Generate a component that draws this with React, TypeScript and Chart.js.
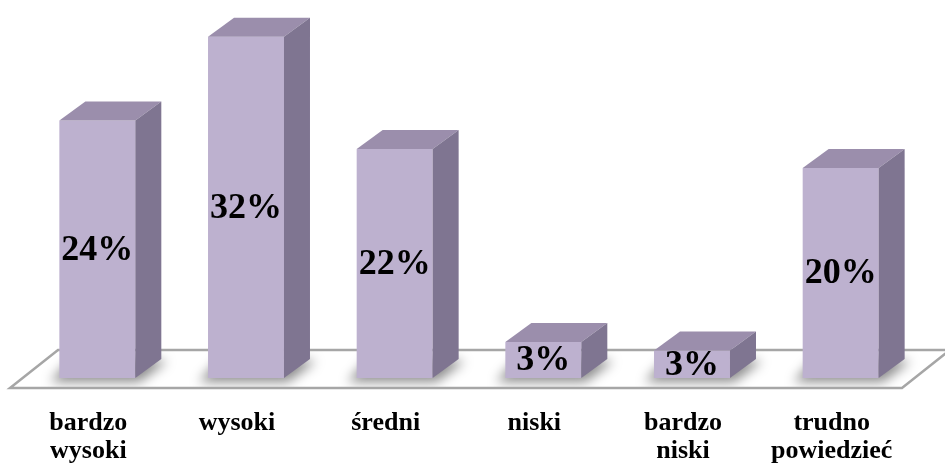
import React, { useEffect, useRef } from "react";
import { Chart, registerables } from "chart.js";

Chart.register(...registerables);

const categories: string[][] = [
  ["bardzo", "wysoki"],
  ["wysoki"],
  ["średni"],
  ["niski"],
  ["bardzo", "niski"],
  ["trudno", "powiedzieć"],
];
const values: number[] = [24.3, 32.2, 21.6, 3.4, 2.6, 19.8];
const yMax = 35;

const FRONT = "#BDB1CF";
const TOP = "#9B8EAC";
const SIDE = "#7F7591";
const DX = 26;
const DY = 19;
const SERIF = '"Liberation Serif", "Times New Roman", Times, serif';

function poly(ctx: CanvasRenderingContext2D, pts: number[][]) {
  ctx.beginPath();
  ctx.moveTo(pts[0][0], pts[0][1]);
  for (let i = 1; i < pts.length; i++) ctx.lineTo(pts[i][0], pts[i][1]);
  ctx.closePath();
}

const bar3d = {
  id: "bar3d",
  beforeDatasetsDraw(chart: any) {
    const { ctx, chartArea } = chart;
    const b = chartArea.bottom;
    const floor = [
      [chartArea.left - 13, b + 10],
      [chartArea.right - 13, b + 10],
      [chartArea.right + 35, b - 28],
      [chartArea.left + 35, b - 28],
    ];
    ctx.save();
    poly(ctx, floor);
    ctx.fillStyle = "#ffffff";
    ctx.fill();
    ctx.clip();
    ctx.filter = "blur(6px)";
    ctx.fillStyle = "rgba(0,0,0,0.45)";
    const meta = chart.getDatasetMeta(0);
    meta.data.forEach((el: any) => {
      const { x, width, base } = el.getProps(["x", "width", "base"], true);
      const L = x - width / 2;
      const R = x + width / 2;
      poly(ctx, [
        [L - 9, base + 4],
        [R + 4, base + 4],
        [R + DX + 6, base - DY + 2],
        [L + DX - 9, base - DY - 6],
      ]);
      ctx.fill();
    });
    ctx.restore();
    ctx.save();
    poly(ctx, floor);
    ctx.strokeStyle = "#A6A6A6";
    ctx.lineWidth = 2.5;
    ctx.stroke();
    ctx.restore();
  },
  afterDatasetsDraw(chart: any) {
    const { ctx, chartArea } = chart;
    const meta = chart.getDatasetMeta(0);
    ctx.save();
    meta.data.forEach((el: any, i: number) => {
      const { x, y, width, base } = el.getProps(["x", "y", "width", "base"], true);
      const L = x - width / 2;
      const R = x + width / 2;
      poly(ctx, [
        [L, y],
        [R, y],
        [R + DX, y - DY],
        [L + DX, y - DY],
      ]);
      ctx.fillStyle = TOP;
      ctx.fill();
      poly(ctx, [
        [R, y],
        [R + DX, y - DY],
        [R + DX, base - DY],
        [R, base],
      ]);
      ctx.fillStyle = SIDE;
      ctx.fill();

      const v = chart.data.datasets[0].data[i];
      const txt = Math.round(v) + "%";
      ctx.font = "bold 36px " + SERIF;
      ctx.fillStyle = "#000000";
      ctx.textAlign = "center";
      ctx.textBaseline = "middle";
      ctx.fillText(txt, x, (y + base) / 2 + 1);
    });

    const xs = chart.scales.x;
    const b = chartArea.bottom;
    ctx.font = "bold 26px " + SERIF;
    ctx.fillStyle = "#000000";
    ctx.textAlign = "center";
    ctx.textBaseline = "alphabetic";
    chart.data.labels.forEach((lab: string[], i: number) => {
      const cx = xs.getPixelForValue(i) - 9;
      lab.forEach((line: string, j: number) => {
        ctx.fillText(line, cx, b + 52 + j * 28);
      });
    });
    ctx.restore();
  },
};

export default function App() {
  const ref = useRef<HTMLCanvasElement | null>(null);
  useEffect(() => {
    if (!ref.current) return;
    const chart = new Chart(ref.current, {
      type: "bar",
      data: {
        labels: categories as any,
        datasets: [
          {
            data: values,
            backgroundColor: FRONT,
            borderWidth: 0,
            barPercentage: 0.511,
            categoryPercentage: 1,
          },
        ],
      },
      options: {
        animation: false,
        responsive: true,
        maintainAspectRatio: false,
        layout: { padding: { top: 7, bottom: 91, left: 23, right: 30 } },
        plugins: {
          legend: { display: false },
          tooltip: { enabled: false },
        },
        scales: {
          x: { display: false },
          y: { display: false, min: 0, max: yMax },
        },
      },
      plugins: [bar3d],
    });
    return () => chart.destroy();
  }, []);
  return (
    <div
      style={{
        position: "absolute",
        left: 0,
        top: 0,
        width: 945,
        height: 469,
        background: "#ffffff",
      }}
    >
      <canvas ref={ref} />
    </div>
  );
}
